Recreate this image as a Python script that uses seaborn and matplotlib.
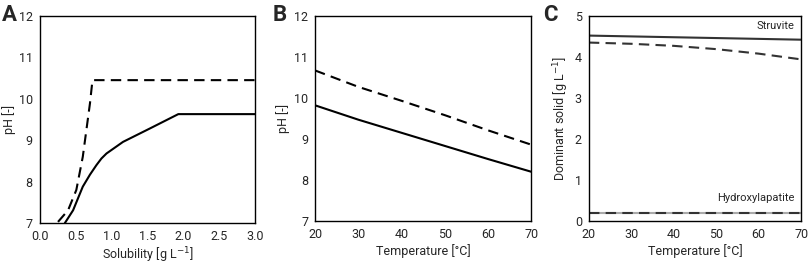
import pandas as pd
import numpy as np
import matplotlib.pyplot as plt
import seaborn as sns

# Panel A: pH vs solubility
sol_dashed = [0.255, 0.395, 0.51, 0.60, 0.70, 0.735, 1.5, 3.0]
ph_dashed = [7.03, 7.31, 7.80, 8.60, 9.89, 10.45, 10.45, 10.45]
sol_solid = [0.35, 0.465, 0.60, 0.70, 0.79, 0.86, 0.93, 1.16, 1.53, 1.93, 3.0]
ph_solid = [7.0, 7.31, 7.88, 8.17, 8.40, 8.56, 8.68, 8.96, 9.28, 9.63, 9.63]

# Panel B: pH vs temperature
temp = [20, 30, 40, 50, 60, 70]
ph_b_dashed = [10.67, 10.27, 9.93, 9.58, 9.21, 8.86]
ph_b_solid = [9.82, 9.47, 9.15, 8.83, 8.51, 8.20]

# Panel C: dominant solid vs temperature
struvite_solid = [4.52, 4.50, 4.48, 4.46, 4.44, 4.42]
struvite_dashed = [4.35, 4.32, 4.27, 4.19, 4.08, 3.94]
hap_solid = [0.19, 0.19, 0.19, 0.19, 0.19, 0.19]
hap_dashed = [0.19, 0.19, 0.19, 0.19, 0.19, 0.19]

sns.set_theme(style='white')
plt.rcParams['font.family'] = ['Roboto', 'DejaVu Sans']
plt.rcParams['axes.edgecolor'] = 'black'
plt.rcParams['axes.linewidth'] = 1.0

fig = plt.figure(figsize=(8.1, 2.65), dpi=100)
axA = fig.add_axes([0.049, 0.158, 0.266, 0.782])
axB = fig.add_axes([0.389, 0.166, 0.267, 0.774])
axC = fig.add_axes([0.727, 0.166, 0.262, 0.774])

dash = (0, (5, 3))

# A
sns.lineplot(x=sol_dashed, y=ph_dashed, ax=axA, color='black', lw=1.5, linestyle=dash)
sns.lineplot(x=sol_solid, y=ph_solid, ax=axA, color='black', lw=1.5)
axA.set_xlim(0, 3)
axA.set_ylim(7, 12)
axA.set_xticks(np.arange(0, 3.01, 0.5))
axA.set_xticklabels([f'{v:.1f}' for v in np.arange(0, 3.01, 0.5)])
axA.set_yticks(range(7, 13))
axA.set_xlabel('Solubility [g L$^{-1}$]', fontsize=9, labelpad=2)
axA.set_ylabel('pH [-]', fontsize=9, labelpad=2)

# B
sns.lineplot(x=temp, y=ph_b_dashed, ax=axB, color='black', lw=1.5, linestyle=dash)
sns.lineplot(x=temp, y=ph_b_solid, ax=axB, color='black', lw=1.5)
axB.set_xlim(20, 70)
axB.set_ylim(7, 12)
axB.set_xticks(temp)
axB.set_yticks(range(7, 13))
axB.set_xlabel('Temperature [°C]', fontsize=9, labelpad=2)
axB.set_ylabel('pH [-]', fontsize=9, labelpad=3)

# C
sns.lineplot(x=temp, y=hap_solid, ax=axC, color='#aaaaaa', lw=1.5)
sns.lineplot(x=temp, y=hap_dashed, ax=axC, color='#333333', lw=1.5, linestyle=dash)
sns.lineplot(x=temp, y=struvite_solid, ax=axC, color='#333333', lw=1.5)
sns.lineplot(x=temp, y=struvite_dashed, ax=axC, color='#333333', lw=1.5, linestyle=dash)
axC.set_xlim(20, 70)
axC.set_ylim(0, 5)
axC.set_xticks(temp)
axC.set_yticks(range(0, 6))
axC.set_xlabel('Temperature [°C]', fontsize=9, labelpad=2)
axC.set_ylabel('Dominant solid [g L$^{-1}$]', fontsize=9, labelpad=3)
axC.text(68.5, 4.62, 'Struvite', ha='right', va='bottom', fontsize=8)
axC.text(68.5, 0.45, 'Hydroxylapatite', ha='right', va='bottom', fontsize=8)

for ax in [axA, axB, axC]:
    ax.tick_params(length=0, labelsize=9, pad=5)
    ax.tick_params(axis='y', pad=5)
    for s in ax.spines.values():
        s.set_visible(True)
        s.set_color('black')

fig.text(0.002, 0.985, 'A', fontsize=16, fontweight='bold', va='top', ha='left')
fig.text(0.336, 0.985, 'B', fontsize=16, fontweight='bold', va='top', ha='left')
fig.text(0.670, 0.985, 'C', fontsize=16, fontweight='bold', va='top', ha='left')

fig.savefig('out.png', dpi=100)
